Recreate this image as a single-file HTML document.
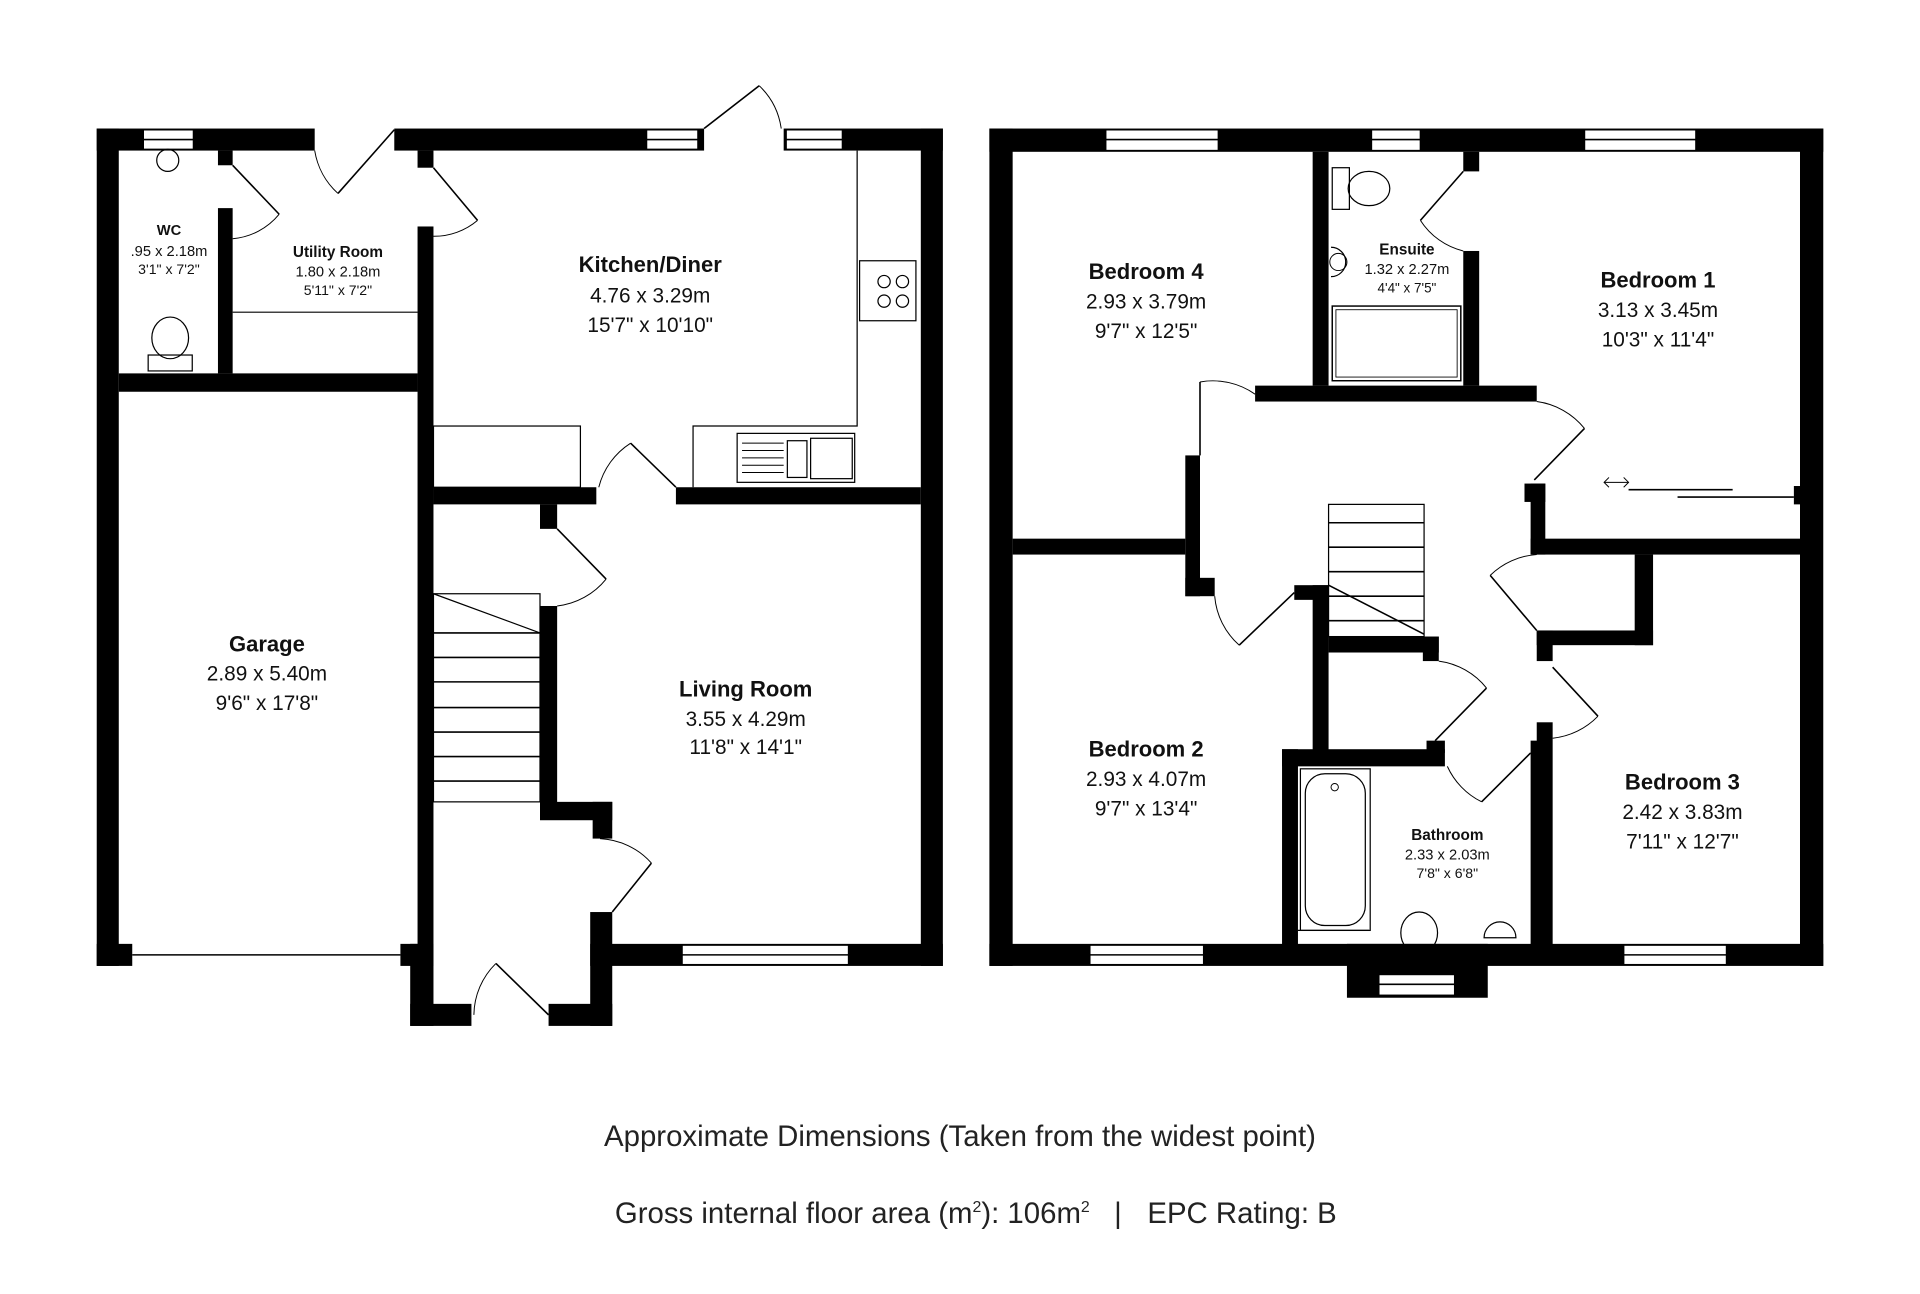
<!DOCTYPE html>
<html><head><meta charset="utf-8"><style>
html,body{margin:0;padding:0;background:#fff}
svg{display:block}
text{font-family:"Liberation Sans",Arial,sans-serif;fill:#111}
.b{font-weight:bold}
</style></head><body>
<svg width="1920" height="1294" viewBox="0 0 1568 1057" preserveAspectRatio="none" xmlns="http://www.w3.org/2000/svg">
<rect width="1568" height="1057" fill="#fff"/>
<g fill="#000">
<rect x="79" y="105" width="18" height="684"/>
<rect x="79" y="105" width="178" height="18"/>
<rect x="322" y="105" width="253" height="18"/>
<rect x="640" y="105" width="130" height="18"/>
<rect x="752" y="105" width="18" height="684"/>
<rect x="482" y="771" width="288" height="18"/>
<rect x="79" y="771" width="29" height="18"/>
<rect x="327" y="771" width="27" height="18"/>
<rect x="335" y="771" width="19" height="67"/>
<rect x="335" y="820" width="50" height="18"/>
<rect x="448" y="820" width="52" height="18"/>
<rect x="482" y="745" width="18" height="93"/>
<rect x="341" y="123" width="13" height="14"/>
<rect x="341" y="185" width="13" height="600"/>
<rect x="97" y="305" width="244" height="15"/>
<rect x="178" y="123" width="12" height="12"/>
<rect x="178" y="170" width="12" height="135"/>
<rect x="354" y="398" width="133" height="14"/>
<rect x="552" y="398" width="200" height="14"/>
<rect x="441" y="412" width="14" height="20"/>
<rect x="441" y="495" width="14" height="170"/>
<rect x="441" y="655" width="59" height="15"/>
<rect x="484" y="655" width="16" height="30"/>
<rect x="808" y="105" width="19" height="684"/>
<rect x="808" y="105" width="681" height="19"/>
<rect x="1470" y="105" width="19" height="684"/>
<rect x="808" y="771" width="681" height="18"/>
<rect x="1100" y="771" width="115" height="44"/>
<rect x="1072" y="124" width="13" height="191"/>
<rect x="1195" y="124" width="13" height="16"/>
<rect x="1195" y="205" width="13" height="110"/>
<rect x="1025" y="315" width="230" height="13"/>
<rect x="827" y="440" width="141" height="13"/>
<rect x="968" y="372" width="12" height="115"/>
<rect x="968" y="472" width="24" height="15"/>
<rect x="1057" y="478" width="28" height="12"/>
<rect x="1072" y="478" width="13" height="140"/>
<rect x="1085" y="520" width="90" height="13"/>
<rect x="1162" y="520" width="13" height="20"/>
<rect x="1047" y="612" width="133" height="14"/>
<rect x="1165" y="605" width="15" height="10"/>
<rect x="1047" y="612" width="13" height="160"/>
<rect x="1250" y="605" width="15" height="167"/>
<rect x="1245" y="395" width="17" height="15"/>
<rect x="1250" y="395" width="12" height="58"/>
<rect x="1250" y="440" width="220" height="13"/>
<rect x="1335" y="453" width="15" height="74"/>
<rect x="1255" y="515" width="95" height="12"/>
<rect x="1255" y="515" width="13" height="25"/>
<rect x="1255" y="590" width="13" height="182"/>
<rect x="1465" y="397" width="8" height="15"/>
</g>
<g fill="#fff" stroke="#000" stroke-width="1.2">
<rect x="117" y="106" width="41" height="16"/>
<rect x="528" y="106" width="42" height="16"/>
<rect x="642" y="106" width="46" height="16"/>
<rect x="557" y="772" width="136" height="16"/>
<rect x="903" y="106" width="92" height="17"/>
<rect x="1120" y="106" width="40" height="17"/>
<rect x="1294" y="106" width="91" height="17"/>
<rect x="890" y="772" width="93" height="16"/>
<rect x="1326" y="772" width="84" height="16"/>
<rect x="1126" y="796" width="62" height="17"/>
</g>
<g stroke="#000" stroke-width="1.3" fill="none">
<line x1="117" y1="114" x2="158" y2="114"/><line x1="528" y1="114" x2="570" y2="114"/><line x1="642" y1="114" x2="688" y2="114"/>
<line x1="557" y1="780" x2="693" y2="780"/><line x1="903" y1="114" x2="995" y2="114"/><line x1="1120" y1="114" x2="1160" y2="114"/>
<line x1="1294" y1="114" x2="1385" y2="114"/><line x1="890" y1="780" x2="983" y2="780"/><line x1="1326" y1="780" x2="1410" y2="780"/><line x1="1126" y1="804" x2="1188" y2="804"/>
<line x1="108" y1="780" x2="327" y2="780"/>
<line x1="190" y1="135" x2="228" y2="175"/><path d="M228 175 A55 55 0 0 1 190 195" stroke-width="0.8"/>
<line x1="322" y1="106" x2="276" y2="158"/><path d="M276 158 A60 60 0 0 1 257 123" stroke-width="0.8"/>
<line x1="354" y1="137" x2="390" y2="180"/><path d="M390 180 A55 55 0 0 1 354 193" stroke-width="0.8"/>
<line x1="575" y1="105" x2="620" y2="70"/><path d="M620 70 A60 60 0 0 1 638 105" stroke-width="0.8"/>
<line x1="552" y1="398" x2="515" y2="362"/><path d="M515 362 A60 60 0 0 0 489 398" stroke-width="0.8"/>
<line x1="455" y1="432" x2="495" y2="473"/><path d="M495 473 A60 60 0 0 1 455 495" stroke-width="0.8"/>
<line x1="500" y1="745" x2="532" y2="705"/><path d="M532 705 A60 60 0 0 0 490 685" stroke-width="0.8"/>
<line x1="448" y1="829" x2="405" y2="787"/><path d="M405 787 A60 60 0 0 0 387 829" stroke-width="0.8"/>
<rect x="354" y="348" width="120" height="50" stroke-width="1"/>
<polyline points="566,398 566,348 700,348 700,123" stroke-width="1"/>
<rect x="702" y="213" width="46" height="49" stroke-width="1"/>
<circle cx="722" cy="230" r="5" stroke-width="1"/><circle cx="737" cy="230" r="5" stroke-width="1"/>
<circle cx="722" cy="246" r="5" stroke-width="1"/><circle cx="737" cy="246" r="5" stroke-width="1"/>
<rect x="602" y="354" width="96" height="40" stroke-width="1"/>
<rect x="643" y="360" width="16" height="30" stroke-width="1"/><rect x="662" y="358" width="34" height="33" stroke-width="1"/>
<line x1="606" y1="362" x2="640" y2="362" stroke-width="0.8"/><line x1="606" y1="368" x2="640" y2="368" stroke-width="0.8"/><line x1="606" y1="374" x2="640" y2="374" stroke-width="0.8"/><line x1="606" y1="380" x2="640" y2="380" stroke-width="0.8"/><line x1="606" y1="386" x2="640" y2="386" stroke-width="0.8"/>
<line x1="190" y1="255" x2="341" y2="255" stroke-width="1"/>
<circle cx="137" cy="131" r="9" stroke-width="1"/>
<ellipse cx="139" cy="276" rx="15" ry="17" stroke-width="1"/><rect x="121" y="290" width="36" height="13" stroke-width="1"/>
<rect x="354" y="485" width="87" height="170" stroke-width="1"/>
<line x1="354" y1="485" x2="441" y2="517" stroke-width="1"/>
<line x1="354" y1="517" x2="441" y2="517"/><line x1="354" y1="537" x2="441" y2="537"/><line x1="354" y1="557" x2="441" y2="557"/><line x1="354" y1="578" x2="441" y2="578"/><line x1="354" y1="598" x2="441" y2="598"/><line x1="354" y1="618" x2="441" y2="618"/><line x1="354" y1="638" x2="441" y2="638"/>
<line x1="980" y1="372" x2="980" y2="312"/><path d="M980 312 A60 60 0 0 1 1025 322" stroke-width="0.8"/>
<line x1="1195" y1="140" x2="1160" y2="180"/><path d="M1160 180 A58 58 0 0 0 1195 205" stroke-width="0.8"/>
<line x1="1253" y1="392" x2="1294" y2="350"/><path d="M1294 350 A60 60 0 0 0 1255 328" stroke-width="0.8"/>
<line x1="1057" y1="484" x2="1012" y2="527"/><path d="M1012 527 A60 60 0 0 1 992 487" stroke-width="0.8"/>
<line x1="1255" y1="515" x2="1217" y2="470"/><path d="M1217 470 A60 60 0 0 1 1255 453" stroke-width="0.8"/>
<line x1="1268" y1="545" x2="1305" y2="585"/><path d="M1305 585 A60 60 0 0 1 1268 603" stroke-width="0.8"/>
<line x1="1172" y1="605" x2="1214" y2="562"/><path d="M1214 562 A60 60 0 0 0 1175 540" stroke-width="0.8"/>
<line x1="1250" y1="615" x2="1210" y2="655"/><path d="M1210 655 A60 60 0 0 1 1182 626" stroke-width="0.8"/>
<line x1="1330" y1="400" x2="1415" y2="400"/><line x1="1370" y1="406" x2="1465" y2="406"/>
<line x1="1310" y1="394" x2="1330" y2="394" stroke-width="0.8"/><path d="M1314 390 L1310 394 L1314 398 M1326 390 L1330 394 L1326 398" stroke-width="0.8"/>
<rect x="1085" y="412" width="78" height="108" stroke-width="1"/>
<line x1="1085" y1="427" x2="1163" y2="427"/><line x1="1085" y1="447" x2="1163" y2="447"/><line x1="1085" y1="467" x2="1163" y2="467"/><line x1="1085" y1="487" x2="1163" y2="487"/><line x1="1085" y1="507" x2="1163" y2="507"/>
<line x1="1085" y1="478" x2="1163" y2="518"/>
<rect x="1088" y="137" width="14" height="34" stroke-width="1"/><ellipse cx="1118" cy="154" rx="17" ry="14" stroke-width="1"/>
<path d="M1087 202 A12 12 0 0 1 1087 226" stroke-width="1"/><circle cx="1093" cy="214" r="7" stroke-width="0.8"/>
<rect x="1088" y="250" width="105" height="61" stroke-width="1.2"/><rect x="1091" y="253" width="99" height="55" stroke-width="0.7"/>
<rect x="1062" y="628" width="57" height="132" stroke-width="1"/><rect x="1066" y="632" width="49" height="124" rx="16" stroke-width="1"/>
<circle cx="1090" cy="643" r="3" stroke-width="0.8"/>
<line x1="1060" y1="760" x2="1118" y2="760" stroke-width="1"/>
<ellipse cx="1159" cy="762" rx="15" ry="17" stroke-width="1"/><rect x="1141" y="778" width="36" height="15" stroke-width="1"/>
<path d="M1212 766 A13 13 0 0 1 1238 766 Z" stroke-width="1"/>
</g>
<text x="138" y="192" font-size="12" class="b" text-anchor="middle">WC</text>
<text x="138" y="209" font-size="12" text-anchor="middle">.95 x 2.18m</text>
<text x="138" y="224" font-size="11.5" text-anchor="middle">3'1" x 7'2"</text>
<text x="276" y="210" font-size="12.5" class="b" text-anchor="middle">Utility Room</text>
<text x="276" y="226" font-size="12" text-anchor="middle">1.80 x 2.18m</text>
<text x="276" y="241" font-size="11.5" text-anchor="middle">5'11" x 7'2"</text>
<text x="531" y="222" font-size="18" class="b" text-anchor="middle">Kitchen/Diner</text>
<text x="531" y="247" font-size="17" text-anchor="middle">4.76 x 3.29m</text>
<text x="531" y="271" font-size="17" text-anchor="middle">15'7" x 10'10"</text>
<text x="218" y="532" font-size="18" class="b" text-anchor="middle">Garage</text>
<text x="218" y="556" font-size="17" text-anchor="middle">2.89 x 5.40m</text>
<text x="218" y="580" font-size="17" text-anchor="middle">9'6" x 17'8"</text>
<text x="609" y="569" font-size="18" class="b" text-anchor="middle">Living Room</text>
<text x="609" y="593" font-size="17" text-anchor="middle">3.55 x 4.29m</text>
<text x="609" y="616" font-size="17" text-anchor="middle">11'8" x 14'1"</text>
<text x="936" y="228" font-size="18" class="b" text-anchor="middle">Bedroom 4</text>
<text x="936" y="252" font-size="17" text-anchor="middle">2.93 x 3.79m</text>
<text x="936" y="276" font-size="17" text-anchor="middle">9'7" x 12'5"</text>
<text x="1149" y="208" font-size="12.5" class="b" text-anchor="middle">Ensuite</text>
<text x="1149" y="224" font-size="12" text-anchor="middle">1.32 x 2.27m</text>
<text x="1149" y="239" font-size="11" text-anchor="middle">4'4" x 7'5"</text>
<text x="1354" y="235" font-size="18" class="b" text-anchor="middle">Bedroom 1</text>
<text x="1354" y="259" font-size="17" text-anchor="middle">3.13 x 3.45m</text>
<text x="1354" y="283" font-size="17" text-anchor="middle">10'3" x 11'4"</text>
<text x="936" y="618" font-size="18" class="b" text-anchor="middle">Bedroom 2</text>
<text x="936" y="642" font-size="17" text-anchor="middle">2.93 x 4.07m</text>
<text x="936" y="666" font-size="17" text-anchor="middle">9'7" x 13'4"</text>
<text x="1182" y="686" font-size="12.5" class="b" text-anchor="middle">Bathroom</text>
<text x="1182" y="702" font-size="12" text-anchor="middle">2.33 x 2.03m</text>
<text x="1182" y="717" font-size="11.5" text-anchor="middle">7'8" x 6'8"</text>
<text x="1374" y="645" font-size="18" class="b" text-anchor="middle">Bedroom 3</text>
<text x="1374" y="669" font-size="17" text-anchor="middle">2.42 x 3.83m</text>
<text x="1374" y="693" font-size="17" text-anchor="middle">7'11" x 12'7"</text>
<text x="784" y="936" font-size="24" text-anchor="middle" style="fill:#222">Approximate Dimensions (Taken from the widest point)</text>
<text x="890" y="999" font-size="24" text-anchor="end" style="fill:#222">Gross internal floor area (m<tspan font-size="13" dy="-9">2</tspan><tspan dy="9">): 106m</tspan><tspan font-size="13" dy="-9">2</tspan></text>
<text x="913" y="999" font-size="24" text-anchor="middle" style="fill:#222">|</text>
<text x="937" y="999" font-size="24" style="fill:#222">EPC Rating: B</text>
</svg>
</body></html>
